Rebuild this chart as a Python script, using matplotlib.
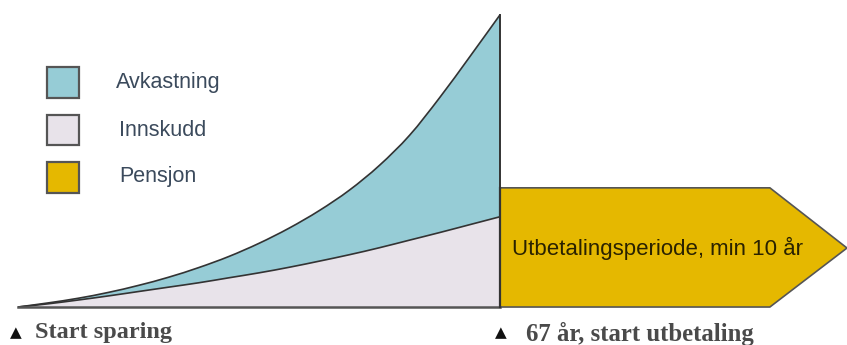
import numpy as np
import matplotlib
matplotlib.use("agg")
import matplotlib.pyplot as plt
from matplotlib.patches import Polygon, Rectangle, PathPatch
from matplotlib.path import Path

# saving years and accumulated capital (index, total at 67 = 100)
years = [0, 2.5, 5, 7.5, 10, 12.5, 15, 17.5, 20, 22.5, 25, 27.5, 30, 32.5, 35, 37.5, 40]
total = [0, 1.4, 3.0, 5.0, 7.4, 10.2, 13.5, 17.3, 21.8, 27.0, 33.0, 40.0, 48.5,
         58.8, 71.7, 85.7, 100.0]
innskudd = [0, 1.1, 2.4, 3.8, 5.3, 6.8, 8.3, 10.0, 11.7, 13.6, 15.7, 17.9, 20.3,
            22.9, 25.5, 28.2, 30.9]

legend_labels = ["Avkastning", "Innskudd", "Pensjon"]
payout_label = "Utbetalingsperiode, min 10 år"
start_label = "Start sparing"
end_label = "67 år, start utbetaling"

c_avk = "#96ccd6"
c_inn = "#e8e3ea"
c_pen = "#e5b800"
edge = "#333333"


def bezier(xs, ys):
    # cubic segments through the points (Catmull-Rom tangents)
    p = np.column_stack([xs, ys]).astype(float)
    verts = [p[0]]
    for i in range(len(p) - 1):
        p0 = p[max(i - 1, 0)]
        p3 = p[min(i + 2, len(p) - 1)]
        c1 = p[i] + (p[i + 1] - p0) / 6
        c2 = p[i + 1] - (p3 - p[i]) / 6
        verts += [c1, c2, p[i + 1]]
    return verts


def curve_path(xs, ys):
    v = bezier(xs, ys)
    return Path(v, [Path.MOVETO] + [Path.CURVE4] * (len(v) - 1))


def band_path(xs, upper, lower):
    up = bezier(xs, upper)
    lo = bezier(xs[::-1], lower[::-1])
    v = up + [lo[0]] + lo[1:] + [up[0]]
    codes = ([Path.MOVETO] + [Path.CURVE4] * (len(up) - 1) + [Path.LINETO]
             + [Path.CURVE4] * (len(lo) - 1) + [Path.CLOSEPOLY])
    return Path(v, codes)


fig = plt.figure(figsize=(8.47, 3.45), dpi=100)
ax = fig.add_axes([0, 0, 1, 1])
ax.set_xlim(-1.49, 68.8)
ax.set_ylim(-13.0, 105.1)
ax.axis("off")

yrs = np.array(years)
tot = np.array(total)
inn = np.array(innskudd)
zero = np.zeros_like(yrs, dtype=float)

# accumulation phase
ax.add_patch(PathPatch(band_path(yrs, tot, inn), facecolor=c_avk, lw=0))
ax.add_patch(PathPatch(band_path(yrs, inn, zero), facecolor=c_inn, lw=0))
ax.add_patch(PathPatch(curve_path(yrs, tot), facecolor="none", edgecolor=edge, lw=1.2))
ax.add_patch(PathPatch(curve_path(yrs, inn), facecolor="none", edgecolor=edge, lw=1.2))
ax.plot([yrs[0], yrs[-1]], [0, 0], color="#555555", lw=1.8)
ax.plot([yrs[-1], yrs[-1]], [0, tot[-1]], color=edge, lw=1.4)

# payout arrow
end = yrs[-1]
top, mid = 40.8, 20.2
arrow = Polygon([(end, 0), (end, top), (62.4, top), (68.8, mid), (62.4, 0)],
                closed=True, facecolor=c_pen, edgecolor="#555555", lw=1.2)
ax.add_patch(arrow)
ax.plot([end, end], [0, top], color=edge, lw=1.6)
ax.text(end + 1.0, mid, payout_label, ha="left", va="center",
        fontsize=16, color="#2a2200", family="Liberation Sans")

# legend boxes
for i, (lab, col) in enumerate(zip(legend_labels, [c_avk, c_inn, c_pen])):
    ax.add_patch(Rectangle((2.4, 71.6 - 16.3 * i), 2.65, 10.6,
                           facecolor=col, edgecolor="#555555", lw=1.6))
    ax.text(8.1 + (0.3 if i else 0), 76.8 - 16.3 * i + (0.6 if i == 2 else 0), lab,
            ha="left", va="center", fontsize=15.5, color="#3b4a5c",
            family="Liberation Sans")

# bottom markers
ax.text(-0.2, -8.8, "▲", ha="center", va="center", fontsize=11, color="#111111",
        family="DejaVu Sans")
ax.text(1.4, -8.6, start_label, ha="left", va="center", fontsize=17.5,
        color="#4a4a4a", family="Liberation Serif", weight="bold")
ax.text(end + 0.05, -8.9, "▲", ha="center", va="center", fontsize=11, color="#111111",
        family="DejaVu Sans")
ax.text(end + 2.2, -9.3, end_label, ha="left", va="center", fontsize=17.8,
        color="#4a4a4a", family="Liberation Serif", weight="bold")

fig.savefig("out.png", dpi=100)
